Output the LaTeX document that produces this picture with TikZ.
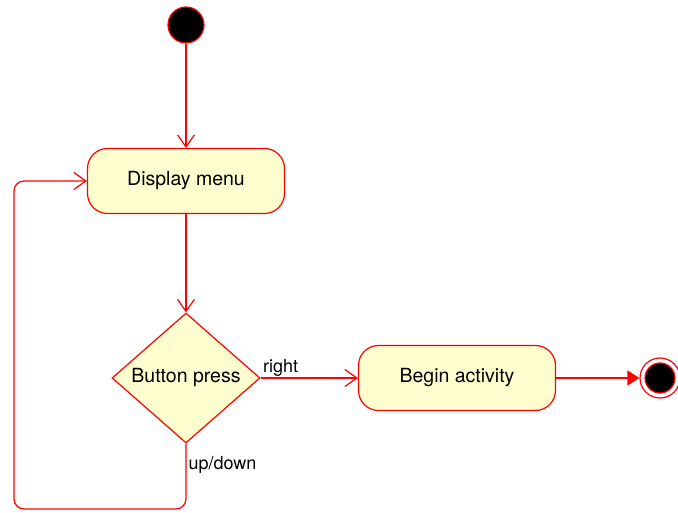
\documentclass[tikz,border=0pt]{standalone}
\usepackage{fontspec}
\setmainfont{TeX Gyre Heros}
\usetikzlibrary{shapes.geometric,arrows.meta}
\definecolor{actfill}{HTML}{FEFECE}
\tikzset{
  activity/.style={draw=red, fill=actfill, rounded corners=20pt,
    minimum width=197pt, minimum height=65pt, font=\fontsize{19.5}{22}\selectfont},
  choice/.style={draw=red, fill=actfill, diamond, inner sep=0pt,
    minimum width=148pt, minimum height=130pt, font=\fontsize{19.5}{22}\selectfont},
  flow/.style={draw=red, -{Straight Barb[length=12pt,width=17pt]}},
  flowend/.style={draw=red, -{Triangle[length=12pt,width=15pt]}},
  guard/.style={font=\fontsize{18}{20}\selectfont, text=black, inner sep=2pt}
}
\begin{document}
\begin{tikzpicture}[x=1pt, y=1pt, line width=1.2pt]
  \useasboundingbox (0,0) rectangle (678,512);

  %% states
  \node[circle, draw=red, fill=black, minimum size=36pt] (start) at (186,487) {};
  \node[activity] (menu) at (186,331) {Display menu};
  \node[choice] (press) at (186,134) {Button press};
  \node[activity] (act) at (457,134) {Begin activity};
  \node[circle, draw=red, fill=white, minimum size=40pt] (stop) at (660,134) {};
  \node[circle, draw=red, fill=black, minimum size=30pt] (stopin) at (stop) {};
  \coordinate (loopcorner) at (14,3);

  %% transitions
  \draw[flow] (start) -- (menu);
  \draw[flow] (menu) -- (press);
  \draw[flow] (press.east) -- node[guard, pos=0, above right, yshift=-1pt] {right} (act);
  \draw[flowend] (act) -- (stop);
  \draw[flow, rounded corners=10pt] (press.south) |- node[guard, pos=0.16, right] {up/down}
    (loopcorner) |- (menu.west); %% loop back
\end{tikzpicture}
\end{document}
